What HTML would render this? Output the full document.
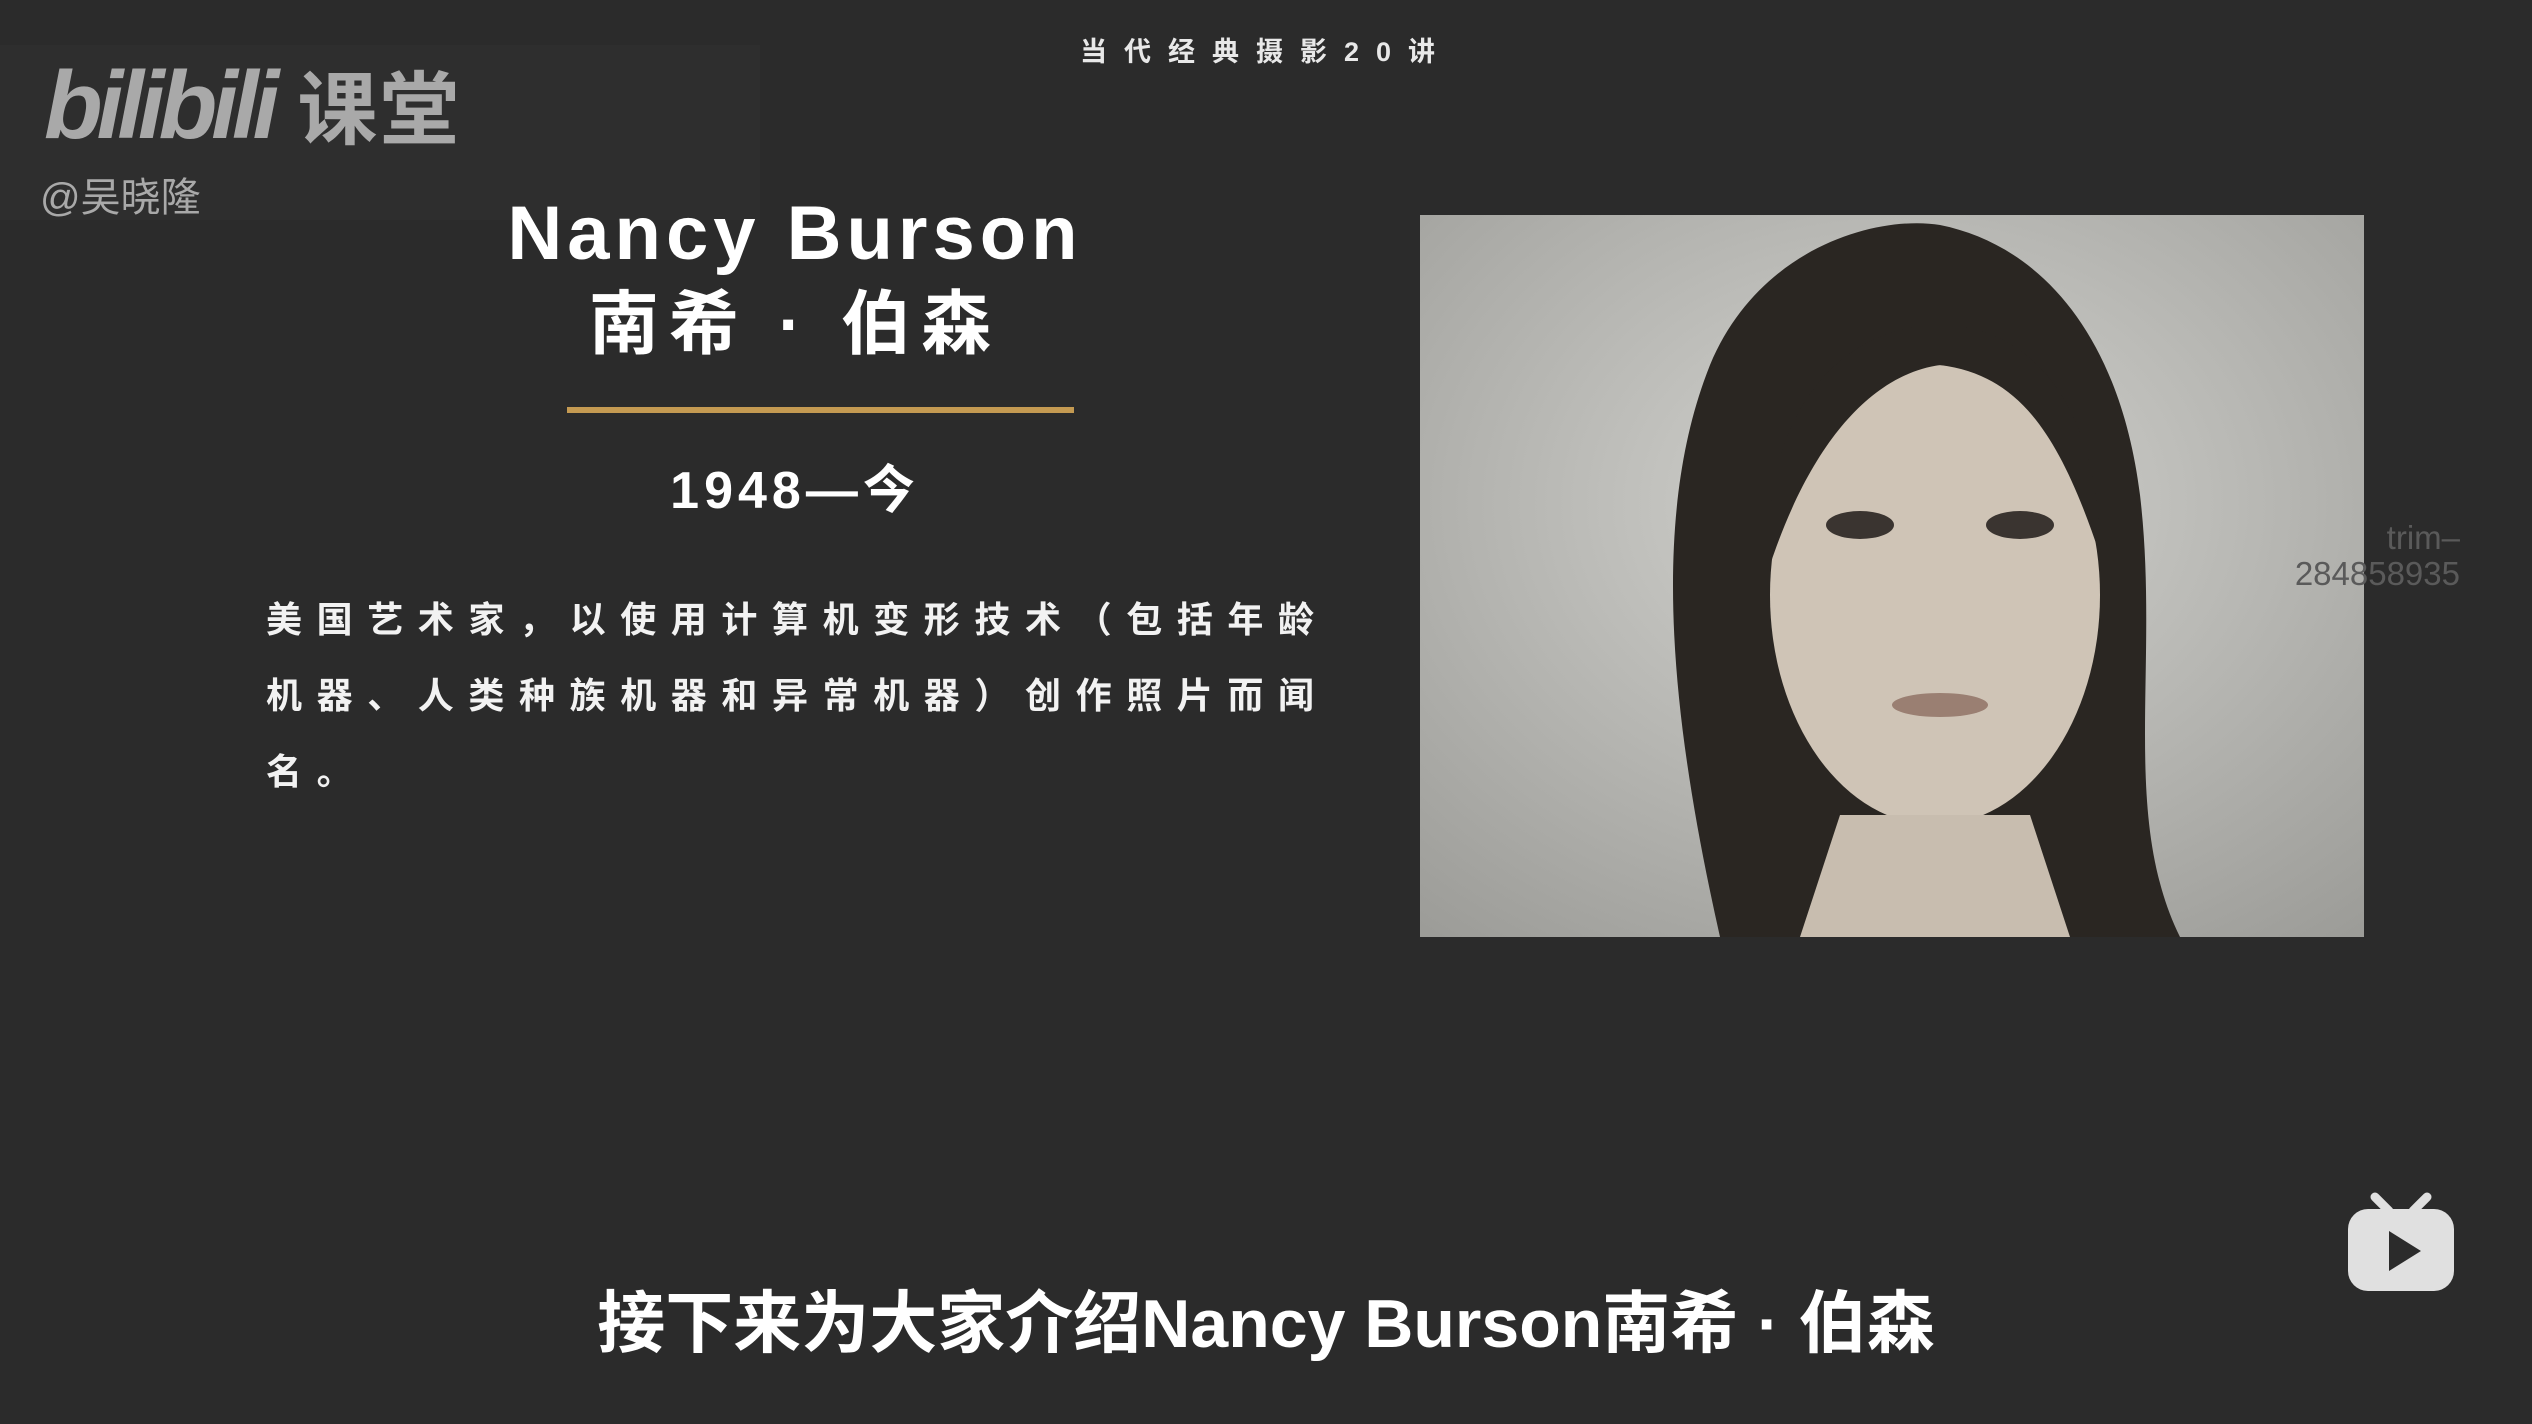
<!DOCTYPE html>
<html><head><meta charset="utf-8"><style>
*{margin:0;padding:0;box-sizing:border-box}
body{width:2532px;height:1424px;background:#2b2b2b;position:relative;overflow:hidden;font-family:"Liberation Sans","Noto Sans CJK SC",sans-serif;color:#fff}
.abs{position:absolute}
</style></head><body>
<div class="abs" style="left:0;top:45px;width:760px;height:175px;background:#2e2e2e"></div>
<div class="abs" style="left:0;width:2532px;top:30px;text-align:center;font-size:27px;letter-spacing:17px;color:#e8e8e8;font-weight:bold">当代经典摄影20讲</div>
<div class="abs" style="left:44px;top:58px;font-size:96px;font-weight:bold;color:#a9a9a9;letter-spacing:-6px;line-height:1;font-style:italic">bilibili<span style="font-style:normal;letter-spacing:2px;margin-left:24px;font-size:80px">课堂</span></div>
<div class="abs" style="left:40px;top:165px;font-size:40px;color:#a9a9a9">@吴晓隆</div>
<div class="abs" style="left:395px;width:800px;top:190px;text-align:center;font-size:76px;font-weight:bold;letter-spacing:5px">Nancy Burson</div>
<div class="abs" style="left:395px;width:800px;top:268px;text-align:center;font-size:70px;font-weight:bold;letter-spacing:10px">南希 · 伯森</div>
<div class="abs" style="left:567px;top:407px;width:507px;height:6px;background:#c49a52"></div>
<div class="abs" style="left:395px;width:800px;top:448px;text-align:center;font-size:52px;font-weight:bold;letter-spacing:5px">1948—今</div>
<div class="abs" style="left:266px;top:582px;white-space:nowrap;font-size:36px;font-weight:bold;letter-spacing:14.6px;line-height:76px;color:#f2f2f2">美国艺术家，以使用计算机变形技术（包括年龄<br>机器、人类种族机器和异常机器）创作照片而闻<br>名。</div>
<svg class="abs" style="left:1420px;top:215px" width="944" height="722" viewBox="0 0 944 722">
<defs><radialGradient id="bg" cx="0.5" cy="0.4" r="0.8"><stop offset="0" stop-color="#d4d4d0"/><stop offset="1" stop-color="#9a9a96"/></radialGradient></defs>
<rect width="944" height="722" fill="url(#bg)"/>
<path d="M300 722 C250 500 230 300 290 150 C340 30 460 0 520 10 C620 30 700 120 720 280 C740 450 700 600 760 722 Z" fill="#2a2622"/>
<ellipse cx="515" cy="380" rx="165" ry="230" fill="#cfc4b6"/>
<path d="M350 350 C340 200 420 110 520 110 C610 110 680 190 680 340 C640 220 600 160 520 150 C450 160 390 230 350 350Z" fill="#2a2622"/>
<path d="M380 722 L420 600 L610 600 L650 722Z" fill="#c8bdaf"/>
<ellipse cx="440" cy="310" rx="34" ry="14" fill="#3a3430"/>
<ellipse cx="600" cy="310" rx="34" ry="14" fill="#3a3430"/>
<ellipse cx="520" cy="490" rx="48" ry="12" fill="#9a7f72"/>
</svg>
<div class="abs" style="left:2250px;width:210px;text-align:right;top:520px;font-size:33px;line-height:36px;color:#5a5a5a">trim–<br>284858935</div>
<svg class="abs" style="left:2345px;top:1185px" width="112" height="110" viewBox="0 0 112 110">
<path d="M30 12 L44 26 M82 12 L68 26" stroke="#e0e0e0" stroke-width="9" stroke-linecap="round"/>
<rect x="3" y="24" width="106" height="82" rx="20" fill="#e0e0e0"/>
<path d="M44 46 L44 86 L76 66Z" fill="#2b2b2b"/>
</svg>
<div class="abs" style="left:0;width:2532px;top:1268px;text-align:center;font-size:68px;font-weight:bold;color:#fff">接下来为大家介绍Nancy Burson南希 · 伯森</div>
</body></html>
